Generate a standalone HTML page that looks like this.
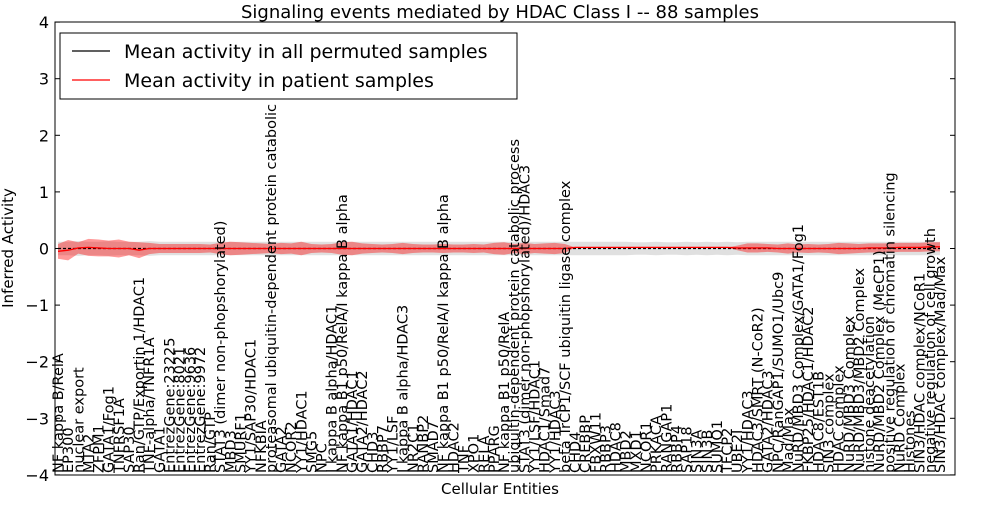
<!DOCTYPE html>
<html><head><meta charset="utf-8"><style>
body{margin:0;background:#fff;font-family:"Liberation Sans","DejaVu Sans",sans-serif}
svg text{font-family:"DejaVu Sans","Liberation Sans",sans-serif}
</style></head><body>
<svg id="chart" width="1000" height="500" xmlns="http://www.w3.org/2000/svg">
<rect width="1000" height="500" fill="#fff"/>
<g id="bands"></g>
<g id="lines"></g>
<g id="labels"></g>
<rect x="55" y="22" width="900" height="453" fill="none" stroke="#000" stroke-width="1"/>
<g id="yaxis"></g>
<text x="500" y="18" font-size="18" text-anchor="middle">Signaling events mediated by HDAC Class I -- 88 samples</text>
<text x="500" y="494" font-size="15" text-anchor="middle">Cellular Entities</text>
<text transform="translate(13,248) rotate(-90)" font-size="15" text-anchor="middle">Inferred Activity</text>
<g>
<rect x="60" y="33" width="457" height="66" fill="#fff" stroke="#000"/>
<line x1="72" y1="51" x2="110" y2="51" stroke="#000" stroke-width="1.2"/>
<text x="124" y="58" font-size="19">Mean activity in all permuted samples</text>
<line x1="72" y1="80" x2="110" y2="80" stroke="red" stroke-width="1.2"/>
<text x="124" y="87" font-size="19">Mean activity in patient samples</text>
</g>
</svg>
<script>
const categories=["NF kappa B/RelA","EP300","nuclear export","MTA2","ZFPM1","GATA1/Fog1","TNFRSF1A","SAP30","Ran/GTP/Exportin 1/HDAC1","TNF-alpha/TNFR1A","GATA1","EntrezGene:23225","EntrezGene:8021","EntrezGene:9636","EntrezGene:9972","Ran/GTP","STAT3 (dimer non-phopshorylated)","MBD3","SMURF1","YY1/SAP30/HDAC1","NFKBIA","proteasomal ubiquitin-dependent protein catabolic process","GATA2","NCOR2","YY1/HDAC1","SMG5","NPC","I kappa B alpha/HDAC1","NF kappa B1 p50/RelA/I kappa B alpha","GATA1/HDAC1","GATA2/HDAC2","CHD3","RBBP7","YY1/LSF","I kappa B alpha/HDAC3","NR2C1","RANBP2","SMAD7","NF kappa B1 p50/RelA/I kappa B alpha","HDAC2","TNF","XPO1","RELA","PPARG","NF kappa B1 p50/RelA","ubiquitin-dependent protein catabolic process","STAT3 (dimer non-phopshorylated)/HDAC3","YY1/LSF/HDAC1","HDAC1/Smad7","YY1/HDAC3","beta TrCP1/SCF ubiquitin ligase complex","CHD4","CREBBP","FBXW11","RBBP3","HDAC8","MBD2","MXD1","NCOR1","PRKACA","RANGAP1","RBBP4","SAP18","SIN3A","SIN3B","SUMO1","TFCP2","UBE2I","YY1/HDAC3","HDAC3/SMRT (N-CoR2)","GATA2/HDAC3","NPC/RanGAP1/SUMO1/Ubc9","Mad/Max","NuRD/MBD3 Complex/GATA1/Fog1","FKBP25/HDAC1/HDAC2","HDAC8/EST1B","SIN3 complex","HDAC complex","NuRD/MBD3 Complex","NuRD/MBD3/MBD2 Complex","histone deacetylation","NuRD/MBD2 Complex (MeCP1)","positive regulation of chromatin silencing","NuRD Complex","Histones","SIN3/HDAC complex/NCoR1","negative regulation of cell growth","SIN3/HDAC complex/Mad/Max"];
const patientMean=[-0.05,-0.03,0.01,0.02,0.01,0,0,0,-0.03,0,0,0,0,0,0,0,0,0,0,0,0,0,0,0,0,0,0,0,0,0,0,0,0,0,0,0,0,0,0,0,0,0,0,0,0,0,0,0,0,0,0,0.02,0.02,0.02,0.02,0.02,0.02,0.02,0.02,0.02,0.02,0.02,0.02,0.02,0.02,0.02,0.02,0.01,0.01,0.01,0.01,0,0,0,0,0,0,0,0,0,0.01,0.01,0.01,0.02,0.02,0.02,0.03,0.03];
const patientSpread=[0.13,0.18,0.1,0.15,0.15,0.14,0.16,0.12,0.14,0.1,0.08,0.08,0.08,0.08,0.08,0.07,0.1,0.12,0.11,0.1,0.09,0.08,0.1,0.09,0.12,0.08,0.07,0.08,0.11,0.12,0.09,0.08,0.07,0.08,0.1,0.08,0.07,0.07,0.08,0.07,0.07,0.08,0.07,0.1,0.11,0.08,0.1,0.08,0.09,0.1,0.08,0,0,0,0,0,0,0,0,0,0,0,0,0,0,0,0,0.04,0.08,0.08,0.07,0.07,0.09,0.07,0.08,0.07,0.08,0.1,0.09,0.08,0.08,0.08,0.08,0.08,0.08,0.08,0.08,0.08];
const permutedMean=new Array(88).fill(0);
const permutedSpread=[0.12,0.12,0.13,0.12,0.12,0.13,0.12,0.12,0.12,0.13,0.12,0.12,0.12,0.12,0.12,0.12,0.12,0.12,0.12,0.12,0.12,0.12,0.12,0.12,0.12,0.12,0.12,0.12,0.12,0.12,0.12,0.12,0.12,0.12,0.12,0.12,0.12,0.12,0.12,0.12,0.12,0.12,0.12,0.12,0.12,0.12,0.12,0.12,0.12,0.12,0.12,0.12,0.12,0.12,0.12,0.12,0.12,0.11,0.11,0.12,0.11,0.11,0.12,0.11,0.12,0.11,0.12,0.11,0.12,0.12,0.12,0.12,0.12,0.12,0.12,0.12,0.12,0.12,0.12,0.12,0.12,0.12,0.12,0.12,0.12,0.12,0.12,0.12];
const yTicks=[-4,-3,-2,-1,0,1,2,3,4];
const yTickLabels=["\u22124","\u22123","\u22122","\u22121","0","1","2","3","4"];
const NS="http://www.w3.org/2000/svg";
const x=i=>58+i*(882/87);
const y=v=>248.5-v*56.6;
function band(m,s,fill,op,name){
  let top=m.map((v,i)=>x(i)+","+y(v+s[i]));
  let bot=m.map((v,i)=>x(i)+","+y(v-s[i])).reverse();
  const p=document.createElementNS(NS,"polygon");
  p.setAttribute("points",top.concat(bot).join(" "));
  p.setAttribute("fill",fill);p.setAttribute("fill-opacity",op);
  
  
  document.getElementById("bands").appendChild(p);
}
band(permutedMean,permutedSpread,"#bbbbbb","0.45","permuted-band");
band(patientMean,patientSpread,"#ff0000","0.4","patient-band");
function line(m,c,name,dash){
  const p=document.createElementNS(NS,"polyline");
  p.setAttribute("points",m.map((v,i)=>x(i)+","+y(v)).join(" "));
  p.setAttribute("fill","none");p.setAttribute("stroke",c);p.setAttribute("stroke-width","1.3");
  if(dash)p.setAttribute("stroke-dasharray",dash);
  
  
  document.getElementById("lines").appendChild(p);
}
line(permutedMean,"#000","permuted-mean-line","3,2");
line(patientMean,"red","patient-mean-line");
const ya=document.getElementById("yaxis");
yTicks.forEach((t,k)=>{
  const l=document.createElementNS(NS,"line");
  l.setAttribute("x1",55);l.setAttribute("x2",60);l.setAttribute("y1",y(t));l.setAttribute("y2",y(t));l.setAttribute("stroke","#000");
  
  
  ya.appendChild(l);
  const r=document.createElementNS(NS,"line");
  r.setAttribute("x1",950);r.setAttribute("x2",955);r.setAttribute("y1",y(t));r.setAttribute("y2",y(t));r.setAttribute("stroke","#000");
  
  
  ya.appendChild(r);
  const tx=document.createElementNS(NS,"text");
  tx.setAttribute("x",49);tx.setAttribute("y",y(t)+6);tx.setAttribute("font-size","16");tx.setAttribute("text-anchor","end");
  tx.textContent=yTickLabels[k];
  
  
  ya.appendChild(tx);
});
const lg=document.getElementById("labels");
categories.forEach((c,i)=>{
  const t=document.createElementNS(NS,"text");
  t.setAttribute("transform","translate("+(x(i)+5)+",473) rotate(-90)");
  t.setAttribute("font-size","14.5");
  t.textContent=c;
  
  
  lg.appendChild(t);
});
</script>
</body></html>
